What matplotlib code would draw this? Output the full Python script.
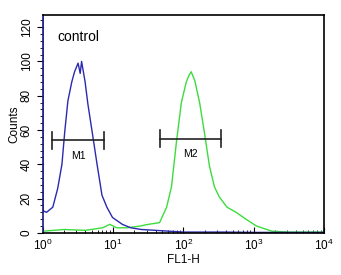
import numpy as np
import matplotlib.pyplot as plt

# values (log10 of FL1-H, counts)
blue_log = [0.0, 0.0, 0.05, 0.14, 0.21, 0.27, 0.31, 0.355, 0.41, 0.45, 0.50, 0.53,
            0.55, 0.60, 0.64, 0.70, 0.77, 0.84, 0.91, 0.99, 1.13, 1.25, 1.4,
            1.6, 1.8, 2.0, 2.3, 2.6, 3.0, 3.4, 4.0]
blue_cnt = [135, 13, 12, 15, 26, 40, 59, 77, 88, 94, 99, 93,
            100, 88, 75, 59, 40, 22, 15, 9, 5, 3, 2,
            1.5, 1, 0.5, 0.5, 0.5, 0.3, 0.3, 0.3]

green_log = [0.0, 0.3, 0.6, 0.85, 0.95, 1.05, 1.2, 1.38, 1.5, 1.66, 1.76, 1.83,
             1.90, 1.97, 2.04, 2.08, 2.11, 2.16, 2.23, 2.30, 2.37, 2.44, 2.51,
             2.62, 2.75, 2.89, 3.04, 3.26, 3.5, 4.0]
green_cnt = [1, 2, 1.5, 3, 5, 3, 3, 4, 5, 6, 15, 27,
             53, 76, 88, 92, 94, 89, 76, 58, 39, 27, 21,
             15, 12, 8, 4, 1, 0.5, 0.5]

markers = ["M1", "M2"]
marker_lo = [1.34, 47]
marker_hi = [7.4, 347]
marker_y = [54, 55]

plt.rcParams['font.family'] = ['Liberation Sans', 'DejaVu Sans']
fig = plt.figure(figsize=(3.41, 2.75), dpi=100)
ax = fig.add_axes([0.126, 0.153, 0.824, 0.792])

ax.plot(10 ** np.array(green_log), green_cnt, color="#3ddc3d", lw=1.0)
ax.plot(10 ** np.array(blue_log), blue_cnt, color="#2a2ab0", lw=1.0)

for name, lo, hi, yy in zip(markers, marker_lo, marker_hi, marker_y):
    ax.plot([lo, hi], [yy, yy], color="#222222", lw=1.2)
    ax.plot([lo, lo], [yy - 5, yy + 5], color="#222222", lw=1.2)
    ax.plot([hi, hi], [yy - 5, yy + 5], color="#222222", lw=1.2)
    ax.text(np.sqrt(lo * hi), yy - 9, name, ha="center", va="center", fontsize=7.5)

ax.set_xscale("log")
ax.set_xlim(1, 1e4)
ax.set_ylim(0, 127)
ax.set_yticks([0, 20, 40, 60, 80, 100, 120])
ax.set_yticks(np.arange(0, 128, 4), minor=True)
ax.tick_params(axis="y", which="major", direction="out", length=4, labelsize=8.5, labelrotation=90)
ax.tick_params(axis="y", which="minor", direction="out", length=2)
ax.tick_params(axis="x", which="major", direction="in", length=4, labelsize=8.5)
ax.tick_params(axis="x", which="minor", direction="in", length=2)
for lbl in ax.get_yticklabels():
    lbl.set_va("center")
for s in ax.spines.values():
    s.set_linewidth(1.2)
ax.spines["left"].set_color("#1a1a80")

ax.set_xlabel("FL1-H", fontsize=8.5, labelpad=1)
ax.set_ylabel("Counts", fontsize=8.5, labelpad=0)
ax.text(0.05, 0.88, "control", transform=ax.transAxes, fontsize=10)

fig.savefig("out.png", dpi=100)
